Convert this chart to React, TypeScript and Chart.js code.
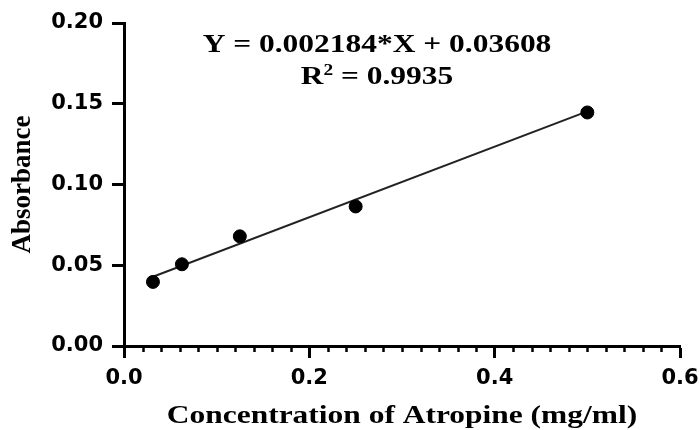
import React, { useEffect, useRef } from "react";
import { Chart, registerables } from "chart.js";

Chart.register(...registerables);

// ---- data ----
const concentrations = [0.03125, 0.0625, 0.125, 0.25, 0.5];
const absorbance = [0.0397, 0.0506, 0.0679, 0.0864, 0.1446];
// fitted line (in mg/ml units) as drawn in the reference
const fitSlope = 0.2184;
const fitIntercept = 0.03608;
const equationText = "Y = 0.002184*X + 0.03608";
const r2Value = "0.9935";
const xTitle = "Concentration of Atropine (mg/ml)";
const yTitle = "Absorbance";
const xMin = 0, xMax = 0.6, xStep = 0.2, xMinorStep = 0.02;
const yMin = 0, yMax = 0.2, yStep = 0.05;

const minorTicks: number[] = [];
for (let i = 0; i <= Math.round((xMax - xMin) / xMinorStep); i++) {
  const v = xMin + i * xMinorStep;
  if (Math.abs(v / xStep - Math.round(v / xStep)) > 1e-6) minorTicks.push(v);
}

const SERIF = '"Liberation Serif", "Times New Roman", serif';
const SANS = '"DejaVu Sans", Arial, sans-serif';

const decorPlugin = {
  id: "decor",
  afterDraw(chart: any) {
    const ctx = chart.ctx;
    const xs = chart.scales.x;
    const area = chart.chartArea;
    // minor ticks
    ctx.save();
    ctx.strokeStyle = "#000";
    ctx.lineWidth = 2.5;
    ctx.beginPath();
    for (const v of minorTicks) {
      const px = Math.round(xs.getPixelForValue(v)) + 0.5;
      ctx.moveTo(px, area.bottom);
      ctx.lineTo(px, area.bottom + 6);
    }
    ctx.stroke();
    ctx.restore();

    const stretch = 1.21;
    // equation
    ctx.save();
    ctx.fillStyle = "#000";
    ctx.textBaseline = "alphabetic";
    ctx.translate(377, 52);
    ctx.scale(stretch, 1);
    ctx.font = `bold 26px ${SERIF}`;
    ctx.textAlign = "center";
    ctx.fillText(equationText, 0, 0);
    ctx.restore();

    ctx.save();
    ctx.fillStyle = "#000";
    ctx.translate(377, 84);
    ctx.scale(stretch, 1);
    ctx.textAlign = "left";
    ctx.font = `bold 26px ${SERIF}`;
    const wR = ctx.measureText("R").width;
    const rest = " = " + r2Value;
    const wRest = ctx.measureText(rest).width;
    ctx.font = `bold 16px ${SERIF}`;
    const w2 = ctx.measureText("2").width;
    const start = -(wR + w2 + wRest) / 2;
    ctx.font = `bold 26px ${SERIF}`;
    ctx.fillText("R", start, 0);
    ctx.font = `bold 16px ${SERIF}`;
    ctx.fillText("2", start + wR, -9);
    ctx.font = `bold 26px ${SERIF}`;
    ctx.fillText(rest, start + wR + w2, 0);
    ctx.restore();

    // x title
    ctx.save();
    ctx.fillStyle = "#000";
    ctx.translate((area.left + area.right) / 2, 423);
    ctx.scale(stretch, 1);
    ctx.font = `bold 26px ${SERIF}`;
    ctx.textAlign = "center";
    ctx.fillText(xTitle, 0, 0);
    ctx.restore();
  },
};

export default function App() {
  const ref = useRef<HTMLCanvasElement | null>(null);
  useEffect(() => {
    if (!ref.current) return;
    const x0 = concentrations[0];
    const x1 = concentrations[concentrations.length - 1];
    const chart = new Chart(ref.current, {
      type: "scatter",
      data: {
        datasets: [
          {
            type: "line",
            data: [
              { x: x0, y: fitIntercept + fitSlope * x0 },
              { x: x1, y: fitIntercept + fitSlope * x1 },
            ],
            borderColor: "#222",
            borderWidth: 2,
            pointRadius: 0,
            fill: false,
            order: 2,
          } as any,
          {
            data: concentrations.map((c, i) => ({ x: c, y: absorbance[i] })),
            backgroundColor: "#000",
            borderColor: "#000",
            pointRadius: 6.5,
            pointHoverRadius: 6.5,
            order: 1,
          },
        ],
      },
      options: {
        animation: false,
        responsive: false,
        layout: { padding: { top: 23, right: 20, left: 0, bottom: 0 } },
        plugins: { legend: { display: false }, tooltip: { enabled: false } },
        scales: {
          x: {
            type: "linear",
            min: xMin,
            max: xMax,
            border: { display: true, color: "#000", width: 3 },
            grid: {
              display: true,
              drawOnChartArea: false,
              drawTicks: true,
              tickLength: 12,
              tickWidth: 3,
              color: "#000",
            },
            ticks: {
              stepSize: xStep,
              color: "#000",
              padding: 8,
              font: { family: SANS, size: 21, weight: "bold" },
              callback: (v: any) => Number(v).toFixed(1),
            },
            afterFit: (s: any) => {
              s.height = 84;
              s.paddingLeft = 0;
              s.paddingRight = 0;
            },
          },
          y: {
            type: "linear",
            min: yMin,
            max: yMax,
            border: { display: true, color: "#000", width: 3 },
            grid: {
              display: true,
              drawOnChartArea: false,
              drawTicks: true,
              tickLength: 12,
              tickWidth: 3,
              color: "#000",
            },
            ticks: {
              stepSize: yStep,
              color: "#000",
              padding: 9,
              font: { family: SANS, size: 21, weight: "bold" },
              callback: (v: any) => Number(v).toFixed(2),
            },
            title: {
              display: true,
              text: yTitle,
              color: "#000",
              padding: { top: 7, bottom: 0 },
              font: { family: SERIF, size: 27, weight: "bold" },
            },
            afterFit: (s: any) => {
              s.width = 124;
              s.paddingTop = 0;
              s.paddingBottom = 0;
            },
          },
        },
      },
      plugins: [decorPlugin],
    });
    return () => chart.destroy();
  }, []);
  return (
    <div style={{ position: "fixed", left: 0, top: 0, width: 700, height: 430, background: "#fff" }}>
      <canvas ref={ref} width={700} height={430} style={{ display: "block" }} />
    </div>
  );
}
